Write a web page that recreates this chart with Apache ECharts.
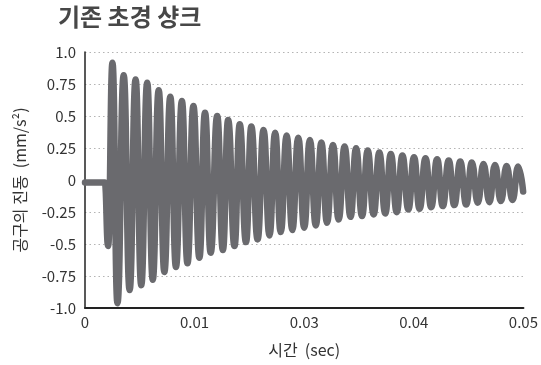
<!DOCTYPE html>
<html>
<head>
<meta charset="utf-8">
<script src="https://cdn.jsdelivr.net/npm/echarts@6/dist/echarts.min.js"></script>
<style>
  html, body { margin: 0; padding: 0; background: #ffffff; }
  #chart { width: 541px; height: 365px; }
</style>
</head>
<body>
<div id="chart"></div>
<script>
// Vibration of the tool over time: turning points of the decaying oscillation
const timeSec = [
  0, 0.00226,
  0.002636, 0.003133, 0.003699, 0.004412, 0.005090, 0.005769, 0.006414, 0.007093,
  0.007726, 0.008405, 0.009050, 0.009729, 0.010373, 0.011052, 0.011686, 0.012364,
  0.013043, 0.013688, 0.014333, 0.015079, 0.015724, 0.016324, 0.017048, 0.017647,
  0.018360, 0.018971, 0.019683, 0.020362, 0.021041, 0.021686, 0.022319, 0.022998,
  0.023643, 0.024321, 0.025000, 0.025645, 0.026324, 0.026957, 0.027602, 0.028281,
  0.028925, 0.029604, 0.030283, 0.030916, 0.031595, 0.032240, 0.032919, 0.033563,
  0.034242, 0.034876, 0.035554, 0.036199, 0.036878, 0.037523, 0.038156, 0.038835,
  0.039480, 0.040158, 0.040803, 0.041482, 0.042115, 0.042794, 0.043473, 0.044118,
  0.044796, 0.045441, 0.046120, 0.046753, 0.047432, 0.048077, 0.048756, 0.049401,
  0.049966
];
const vibration = [
  -0.02, -0.02,
  -0.516, 0.916, -0.963, 0.819, -0.859, 0.786, -0.822, 0.76,
  -0.78, 0.702, -0.719, 0.651, -0.68, 0.617, -0.651, 0.578,
  -0.607, 0.526, -0.568, 0.50, -0.547, 0.468, -0.516, 0.435,
  -0.485, 0.417, -0.464, 0.39, -0.433, 0.37, -0.407, 0.347,
  -0.391, 0.331, -0.373, 0.313, -0.355, 0.292, -0.334, 0.274,
  -0.308, 0.261, -0.288, 0.248, -0.282, 0.23, -0.269, 0.214,
  -0.261, 0.203, -0.251, 0.191, -0.23, 0.178, -0.225, 0.17,
  -0.212, 0.162, -0.204, 0.152, -0.196, 0.144, -0.191, 0.136,
  -0.178, 0.125, -0.173, 0.118, -0.165, 0.11, -0.157, 0.105,
  -0.09
];

// Axis tick labels
const xTickLabels = ['0', '0.01', '0.03', '0.04', '0.05'];
const yTickLabels = ['-1.0', '-0.75', '-0.5', '-0.25', '0', '0.25', '0.5', '0.75', '1.0'];

const chartTitle = '기존 초경 샹크';
const xAxisName = '시간  (sec)';
const yAxisName = '공구의 진동  (mm/s²)';

const X_STEP = 0.0125;
const Y_STEP = 0.25;

const seriesData = timeSec.map((t, i) => [t, vibration[i]]);

const font = '"Noto Sans CJK KR", "Noto Sans", sans-serif';
const chart = echarts.init(document.getElementById('chart'), null, { renderer: 'canvas' });

chart.setOption({
  animation: false,
  backgroundColor: '#ffffff',
  title: {
    text: chartTitle,
    left: 53,
    top: 0,
    textStyle: { fontFamily: font, fontSize: 24, fontWeight: 'bold', color: '#474747' }
  },
  grid: { left: 85, right: 14, top: 52, bottom: 57, containLabel: false },
  xAxis: {
    type: 'value',
    min: 0,
    max: 0.05,
    interval: X_STEP,
    name: xAxisName,
    nameLocation: 'middle',
    nameGap: 34,
    nameTextStyle: { fontFamily: font, fontSize: 16, color: '#333333' },
    axisLine: { show: true, onZero: false, lineStyle: { color: '#222222', width: 2 } },
    axisTick: { show: false },
    axisLabel: {
      fontFamily: font, fontSize: 15, color: '#333333', margin: 7,
      formatter: v => xTickLabels[Math.round(v / X_STEP)] ?? ''
    },
    splitLine: { show: false }
  },
  yAxis: {
    type: 'value',
    min: -1,
    max: 1,
    interval: Y_STEP,
    name: yAxisName,
    nameLocation: 'middle',
    nameGap: 57,
    nameRotate: 90,
    nameTextStyle: { fontFamily: font, fontSize: 16, color: '#333333' },
    axisLine: { show: true, lineStyle: { color: '#222222', width: 1.5 } },
    axisTick: { show: false },
    axisLabel: {
      fontFamily: font, fontSize: 15, color: '#333333', margin: 9,
      formatter: v => yTickLabels[Math.round((v + 1) / Y_STEP)] ?? ''
    },
    splitLine: {
      show: true,
      lineStyle: { color: '#b4b4b4', type: [1.5, 3], width: 1.2 }
    }
  },
  series: [{
    type: 'line',
    data: seriesData,
    showSymbol: false,
    smooth: 0.5,
    smoothMonotone: 'x',
    lineStyle: { color: '#6a6a6e', width: 6.5, cap: 'round', join: 'round' },
    z: 3
  }]
});
</script>
</body>
</html>
